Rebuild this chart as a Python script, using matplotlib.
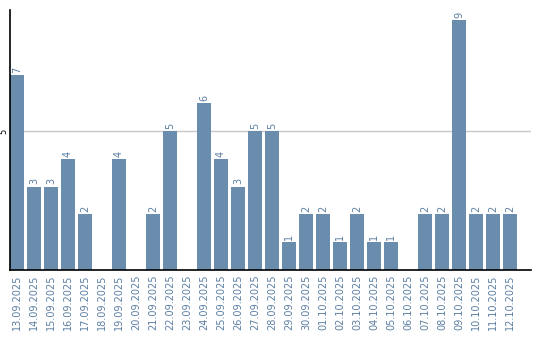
import matplotlib
matplotlib.use('Agg')
import matplotlib.pyplot as plt
import numpy as np

dates = ['13.09.2025', '14.09.2025', '15.09.2025', '16.09.2025', '17.09.2025',
         '18.09.2025', '19.09.2025', '20.09.2025', '21.09.2025', '22.09.2025',
         '23.09.2025', '24.09.2025', '25.09.2025', '26.09.2025', '27.09.2025',
         '28.09.2025', '29.09.2025', '30.09.2025', '01.10.2025', '02.10.2025',
         '03.10.2025', '04.10.2025', '05.10.2025', '06.10.2025', '07.10.2025',
         '08.10.2025', '09.10.2025', '10.10.2025', '11.10.2025', '12.10.2025']
counts = [7, 3, 3, 4, 2, 0, 4, 0, 2, 5, 0, 6, 4, 3, 5, 5, 1, 2, 2, 1,
          2, 1, 1, 0, 2, 2, 9, 2, 2, 2]

bar_color = '#6a8cad'
text_color = '#5b7ea3'

fig = plt.figure(figsize=(5.4, 3.4), dpi=100)
ax = fig.add_axes([10/540, 70/340, 521/540, 260/340])

x = np.arange(len(dates))
ax.bar(x, counts, width=14/17, color=bar_color, zorder=2)

for xi, v in zip(x, counts):
    if v > 0:
        ax.text(xi, v + 0.08, str(v), rotation=90, ha='center', va='bottom',
                fontsize=7, color=text_color)

ax.set_xlim(-0.41, 30.24)
ax.set_ylim(0, 9.35)
ax.set_xticks(x)
ax.set_xticklabels(dates, rotation=90, fontsize=7, color=text_color)
ax.set_yticks([5])
ax.set_yticklabels(['5'], rotation=90, fontsize=6, color='black', va='center')
ax.tick_params(axis='x', length=0, pad=3)
ax.tick_params(axis='y', length=0, pad=1)
ax.axhline(5, color='#c8c8c8', linewidth=1, zorder=1)

for s in ['top', 'right']:
    ax.spines[s].set_visible(False)
ax.spines['left'].set_linewidth(1.2)
ax.spines['bottom'].set_linewidth(1.2)

fig.savefig('out.png', dpi=100)
